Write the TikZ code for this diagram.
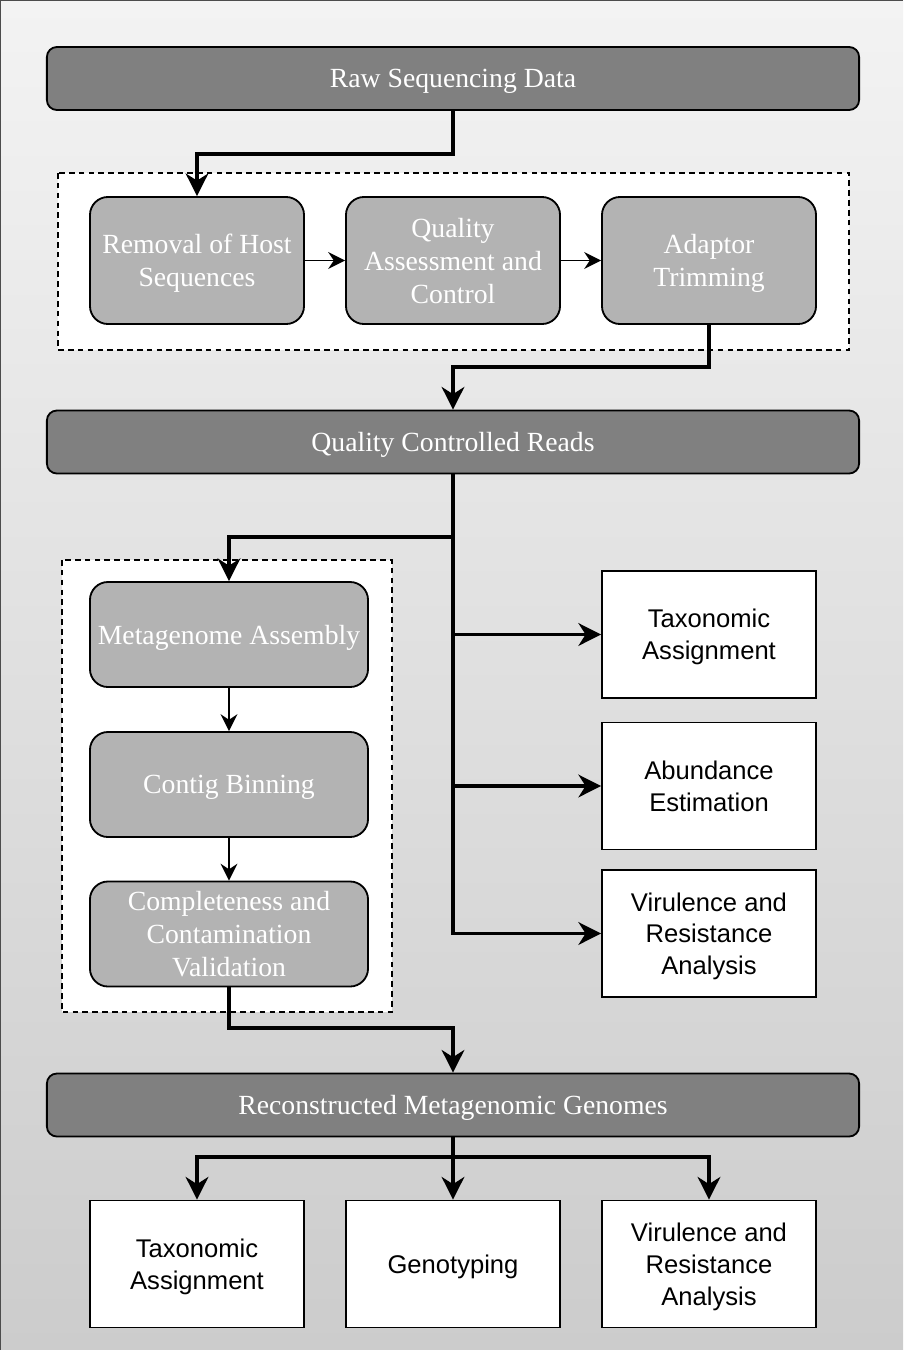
\documentclass[tikz,border=0pt]{standalone}
\usepackage{fontspec}
\setmainfont{Liberation Serif}
\setsansfont{Liberation Sans}
\usetikzlibrary{arrows.meta}
\definecolor{faixacinza}{HTML}{808080}
\definecolor{etapacinza}{HTML}{B3B3B3}
\definecolor{fundotopo}{HTML}{F3F3F3}
\definecolor{fundobase}{HTML}{CCCCCC}

\begin{document}
\begin{tikzpicture}[x=0.025cm, y=-0.025cm,
	faixa/.style={draw=black, line width=1.3pt, fill=faixacinza, rounded corners=0.25cm, minimum width=20.3cm, minimum height=1.575cm, inner sep=0pt, text depth=0pt, text=white, font={\fontsize{19.7}{23.4}\selectfont}},
	etapa/.style={draw=black, line width=1.3pt, fill=etapacinza, rounded corners=0.45cm, minimum width=5.35cm, minimum height=3.175cm, inner sep=0pt, text depth=0pt, align=center, text=white, font={\fontsize{19.7}{23.4}\selectfont}},
	etapalonga/.style={etapa, minimum width=6.95cm, minimum height=2.625cm},
	analise/.style={draw=black, line width=1.3pt, fill=white, minimum width=5.35cm, minimum height=3.175cm, inner sep=0pt, text depth=0pt, align=center, font={\sffamily\fontsize{18.2}{22.6}\selectfont}},
	grupo/.style={draw=black, line width=1pt, dash pattern=on 4pt off 3pt, fill=white},
	grossa/.style={line width=2.8pt, -{Stealth[length=16pt, width=16pt, inset=5pt]}},
	fina/.style={line width=1.4pt, -{Stealth[length=12pt, width=12pt, inset=4pt]}}]
					%Fundo
				\useasboundingbox (0,0) rectangle (903,1350);
				\shade[top color=fundotopo, bottom color=fundobase] (0,0) rectangle (903,1350); %Degradê do fundo
				\draw[line width=1.5pt, black!70] (0,1350) -- (0,0) -- (903,0); %Moldura
					%Grupos tracejados
				\draw[grupo] (58,173) rectangle (849,350); %Pré-processamento
				\draw[grupo] (62,560) rectangle (392,1012); %Montagem
					%Faixas
				\node[faixa] (raw) at (453,78.5) {Raw Sequencing Data};
				\node[faixa] (qcr) at (453,442) {Quality Controlled Reads};
				\node[faixa] (rmg) at (453,1105) {Reconstructed Metagenomic Genomes};
					%Pré-processamento
				\node[etapa] (host) at (197,260.5) {Removal of Host\\Sequences};
				\node[etapa] (qual) at (453,260.5) {Quality\\Assessment and\\Control};
				\node[etapa] (adapt) at (709,260.5) {Adaptor\\Trimming};
					%Montagem
				\node[etapalonga] (assem) at (229,634.5) {Metagenome Assembly};
				\node[etapalonga] (binning) at (229,784.5) {Contig Binning};
				\node[etapalonga] (valid) at (229,934) {Completeness and\\Contamination\\Validation};
					%Análises das leituras
				\node[analise] (taxo) at (709,634.5) {Taxonomic\\Assignment};
				\node[analise] (abund) at (709,786) {Abundance\\Estimation};
				\node[analise] (viru) at (709,933.5) {Virulence and\\Resistance\\Analysis};
					%Análises dos genomas
				\node[analise] (taxog) at (197,1264) {Taxonomic\\Assignment};
				\node[analise] (geno) at (453,1264) {Genotyping};
				\node[analise] (virug) at (709,1264) {Virulence and\\Resistance\\Analysis};
					%Conexões
				\draw[grossa] (raw.south) -- ++(0,43) -| (host.north); %Dados brutos para remoção
				\draw[fina] (host) -- (qual);
				\draw[fina] (qual) -- (adapt);
				\draw[grossa] (adapt.south) -- ++(0,42) -| (qcr.north); %Aparagem para leituras
				\draw[grossa] (qcr.south) -- ++(0,63) -| (assem.north); %Leituras para montagem
				\draw[grossa] (qcr.south) |- (viru.west); %Tronco das análises
				\draw[grossa] (qcr.south |- taxo.west) -- (taxo.west);
				\draw[grossa] (qcr.south |- abund.west) -- (abund.west);
				\draw[fina] (assem) -- (binning);
				\draw[fina] (binning) -- (valid);
				\draw[grossa] (valid.south) -- ++(0,41) -| (rmg.north); %Validação para genomas
				\draw[grossa] (rmg.south) -- ++(0,20) coordinate (ramo) -| (taxog.north); %Genomas para análises
				\draw[grossa] (ramo) -| (virug.north);
				\draw[grossa] (rmg.south) -- (geno.north);
\end{tikzpicture}
\end{document}
